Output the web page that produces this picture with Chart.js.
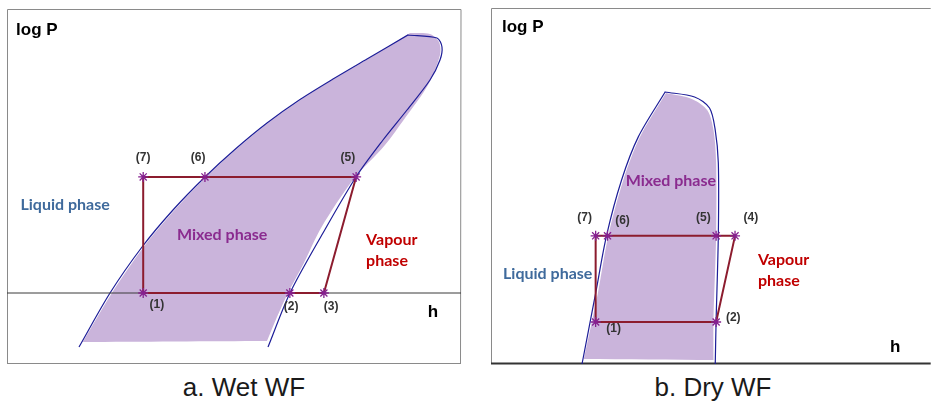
<!DOCTYPE html>
<html>
<head>
<meta charset="utf-8">
<script src="https://cdn.jsdelivr.net/npm/chart.js@4.4.0/dist/chart.umd.min.js"></script>
<style>
body{margin:0;background:#fff;width:937px;height:405px;position:relative;overflow:hidden;font-family:"Liberation Sans",Arial,sans-serif}
#wet{position:absolute;left:0;top:0}
#dry{position:absolute;left:480px;top:0}
.cap{position:absolute;top:372px;width:300px;text-align:center;font-size:26px;color:#1a1a1a}
</style>
</head>
<body>
<canvas id="wet" width="470" height="372"></canvas>
<canvas id="dry" width="457" height="372"></canvas>
<div class="cap" style="left:94px">a. Wet WF</div>
<div class="cap" style="left:563px">b. Dry WF</div>
<script>
// ---- a. wet working fluid (normalised h / log P units, 0..100) ----
// corners are listed twice so the smoothed curve keeps them sharp
var wetDomeH = [15.86, 22.69, 29.74, 36.56, 43.61, 50.44, 57.27, 64.54, 71.81, 79.30, 88.33, 88.33, 94.71, 95.81, 95.37, 93.17, 88.11, 82.82, 76.87, 69.60, 62.33, 57.49];
var wetDomeP = [4.79, 20.0, 32.96, 43.38, 52.68, 60.70, 67.89, 74.51, 80.28, 85.92, 92.68, 92.68, 91.83, 89.30, 85.63, 80.0, 71.55, 63.10, 52.68, 36.90, 20.0, 4.79];
var wetFillH = [16.7, 16.7, 23.1, 30.1, 36.9, 43.9, 50.7, 57.5, 64.8, 72.0, 79.5, 88.77, 88.77, 93.17, 95.15, 95.37, 92.73, 87.67, 83.26, 76.2, 69.3, 65.4, 61.89, 59.47, 57.27, 57.27, 16.7];
var wetFillP = [6.2, 6.2, 20.0, 32.96, 43.38, 52.68, 60.70, 67.89, 74.51, 80.28, 85.92, 93.24, 93.24, 92.96, 90.70, 87.04, 78.59, 69.30, 61.69, 51.83, 38.59, 28.45, 20.0, 13.24, 6.48, 6.48, 6.2];
var wetCycleNames = ['(1)', '(7)', '(6)', '(5)', '(3)', '(2)'];
var wetCycleH = [30.0, 30.0, 43.6, 76.9, 69.8, 62.3];
var wetCycleP = [20.0, 52.7, 52.7, 52.7, 20.0, 20.0];
var wetAxisP = 20.0;

// ---- b. dry working fluid ----
var dryDomeH = [20.7, 23.8, 26.3, 29.7, 33.5, 39.6, 39.6, 46.3, 49.7, 51.0, 51.7, 51.7, 51.2, 51.0];
var dryDomeP = [0.0, 19.9, 36.2, 51.7, 63.8, 76.4, 76.4, 75.0, 71.9, 65.7, 56.5, 36.2, 12.4, 0.0];
var dryFillH = [21.1, 21.1, 24.3, 26.7, 30.1, 33.9, 39.8, 39.8, 45.8, 49.2, 50.6, 51.2, 51.2, 50.6, 50.6, 50.6, 21.1];
var dryFillP = [1.4, 1.4, 19.9, 36.2, 51.7, 63.8, 76.1, 76.1, 74.4, 71.3, 65.7, 56.5, 36.2, 12.4, 1.1, 1.1, 1.4];
var dryCycleNames = ['(1)', '(7)', '(6)', '(5)', '(4)', '(2)'];
var dryCycleH = [23.8, 23.8, 26.5, 51.2, 55.5, 51.2];
var dryCycleP = [11.8, 36.0, 36.0, 36.0, 36.0, 11.8];

function pts(hs, ps) {
    return hs.map(function(h, i){ return {x: h, y: ps[i]}; });
}
function loop(hs, ps) {
    var a = pts(hs, ps);
    a.push(a[0]);
    return a;
}

var fillCol = '#cab4db';
var domeCol = '#1d1d98';
var cycleCol = '#8c1c2e';
var markCol = '#85208f';
var blue = '#3f6a9c', purple = '#8a2b8f', red = '#c00000';
var numFont = 'bold 12px "Liberation Sans", Arial, sans-serif';
var phaseFont = 'bold 16px Lato, sans-serif';
var axisFont = 'bold 17px "Liberation Sans", Arial, sans-serif';

// text + frame drawing
var notesPlugin = {
    id: 'notes',
    beforeDatasetsDraw: function(chart, args, opts) {
        var ctx = chart.ctx, a = chart.chartArea;
        ctx.save();
        ctx.lineWidth = 1;
        ctx.strokeStyle = '#8a8a8a';
        ctx.beginPath();
        ctx.moveTo(a.left + 0.5, a.bottom);
        ctx.lineTo(a.left + 0.5, a.top + 0.5);
        ctx.lineTo(a.right, a.top + 0.5);
        if (opts.rightEdge) ctx.lineTo(a.right - 0.5, a.bottom);
        ctx.stroke();
        ctx.strokeStyle = opts.bottomCol;
        ctx.lineWidth = opts.bottomWidth;
        ctx.beginPath();
        ctx.moveTo(a.left, a.bottom - 0.5);
        ctx.lineTo(a.right, a.bottom - 0.5);
        ctx.stroke();
        ctx.restore();
    },
    afterDatasetsDraw: function(chart, args, opts) {
        var ctx = chart.ctx, xs = chart.scales.x, ys = chart.scales.y;
        ctx.save();
        ctx.textBaseline = 'middle';
        opts.items.forEach(function(t) {
            ctx.font = t.font;
            ctx.fillStyle = t.color;
            ctx.textAlign = t.align || 'center';
            ctx.fillText(t.text, xs.getPixelForValue(t.x), ys.getPixelForValue(t.y));
        });
        ctx.restore();
    }
};

function makeChart(id, pad, fillPts, domePts, cycleNames, cycleH, cycleP, extra, items, frame) {
    var cyc = loop(cycleH, cycleP);
    // higher order is painted first (underneath)
    var sets = [
        {order: 5, data: fillPts, showLine: true, fill: 'shape', backgroundColor: fillCol, borderWidth: 0, pointRadius: 0, tension: 0.3, clip: false},
        {order: 4, data: domePts, showLine: true, fill: false, borderColor: domeCol, borderWidth: 1.2, pointRadius: 0, tension: 0.3, clip: false}
    ].concat(extra).concat([
        {order: 2, data: cyc, showLine: true, fill: false, borderColor: cycleCol, borderWidth: 2, pointRadius: 0, tension: 0, clip: false},
        {order: 1, data: pts(cycleH, cycleP), showLine: false, pointStyle: 'star', pointRadius: 5, borderColor: markCol, borderWidth: 1.3, pointBackgroundColor: markCol, clip: false}
    ]);
    return new Chart(document.getElementById(id), {
        type: 'scatter',
        data: {datasets: sets},
        options: {
            responsive: false,
            animation: false,
            layout: {padding: pad},
            scales: {
                x: {type: 'linear', min: 0, max: 100, display: false},
                y: {type: 'linear', min: 0, max: 100, display: false}
            },
            plugins: {
                legend: {display: false},
                tooltip: {enabled: false},
                notes: {items: items, rightEdge: frame.rightEdge, bottomCol: frame.bottomCol, bottomWidth: frame.bottomWidth}
            }
        },
        plugins: [notesPlugin]
    });
}

var wetItems = [
    {text: 'log P', x: 2.0, y: 94.1, color: '#000', font: axisFont, align: 'left'},
    {text: 'h', x: 93.8, y: 14.6, color: '#000', font: axisFont},
    {text: 'Liquid phase', x: 12.8, y: 44.8, color: blue, font: phaseFont},
    {text: 'Mixed phase', x: 47.4, y: 36.3, color: purple, font: phaseFont},
    {text: 'Vapour', x: 79.1, y: 34.9, color: red, font: phaseFont, align: 'left'},
    {text: 'phase', x: 79.1, y: 29.0, color: red, font: phaseFont, align: 'left'},
    {text: '(7)', x: 30.0, y: 58.0, color: '#333', font: numFont},
    {text: '(6)', x: 42.1, y: 58.0, color: '#333', font: numFont},
    {text: '(5)', x: 75.1, y: 58.0, color: '#333', font: numFont},
    {text: '(1)', x: 33.0, y: 16.6, color: '#333', font: numFont},
    {text: '(2)', x: 62.6, y: 16.1, color: '#333', font: numFont},
    {text: '(3)', x: 71.4, y: 16.1, color: '#333', font: numFont}
];
var dryItems = [
    {text: 'log P', x: 2.5, y: 94.7, color: '#000', font: axisFont, align: 'left'},
    {text: 'h', x: 91.9, y: 4.8, color: '#000', font: axisFont},
    {text: 'Mixed phase', x: 40.9, y: 51.4, color: purple, font: phaseFont},
    {text: 'Liquid phase', x: 12.9, y: 25.3, color: blue, font: phaseFont},
    {text: 'Vapour', x: 60.7, y: 29.2, color: red, font: phaseFont, align: 'left'},
    {text: 'phase', x: 60.7, y: 23.3, color: red, font: phaseFont, align: 'left'},
    {text: '(7)', x: 21.3, y: 41.0, color: '#333', font: numFont},
    {text: '(6)', x: 29.9, y: 40.2, color: '#333', font: numFont},
    {text: '(5)', x: 48.3, y: 41.0, color: '#333', font: numFont},
    {text: '(4)', x: 59.1, y: 41.0, color: '#333', font: numFont},
    {text: '(1)', x: 27.9, y: 9.8, color: '#333', font: numFont},
    {text: '(2)', x: 55.1, y: 12.9, color: '#333', font: numFont}
];

var wetAxis = {order: 3, data: [{x: 0, y: wetAxisP}, {x: 100, y: wetAxisP}], showLine: true, fill: false, borderColor: '#3a3a3a', borderWidth: 1, pointRadius: 0, clip: false};

makeChart('wet', {left: 7, top: 9, right: 9, bottom: 8},
    pts(wetFillH, wetFillP), pts(wetDomeH, wetDomeP),
    wetCycleNames, wetCycleH, wetCycleP, [wetAxis], wetItems,
    {rightEdge: true, bottomCol: '#8a8a8a', bottomWidth: 1});

makeChart('dry', {left: 11, top: 8, right: 1, bottom: 8},
    pts(dryFillH, dryFillP), pts(dryDomeH, dryDomeP),
    dryCycleNames, dryCycleH, dryCycleP, [], dryItems,
    {rightEdge: false, bottomCol: '#333', bottomWidth: 2});
</script>
</body>
</html>
